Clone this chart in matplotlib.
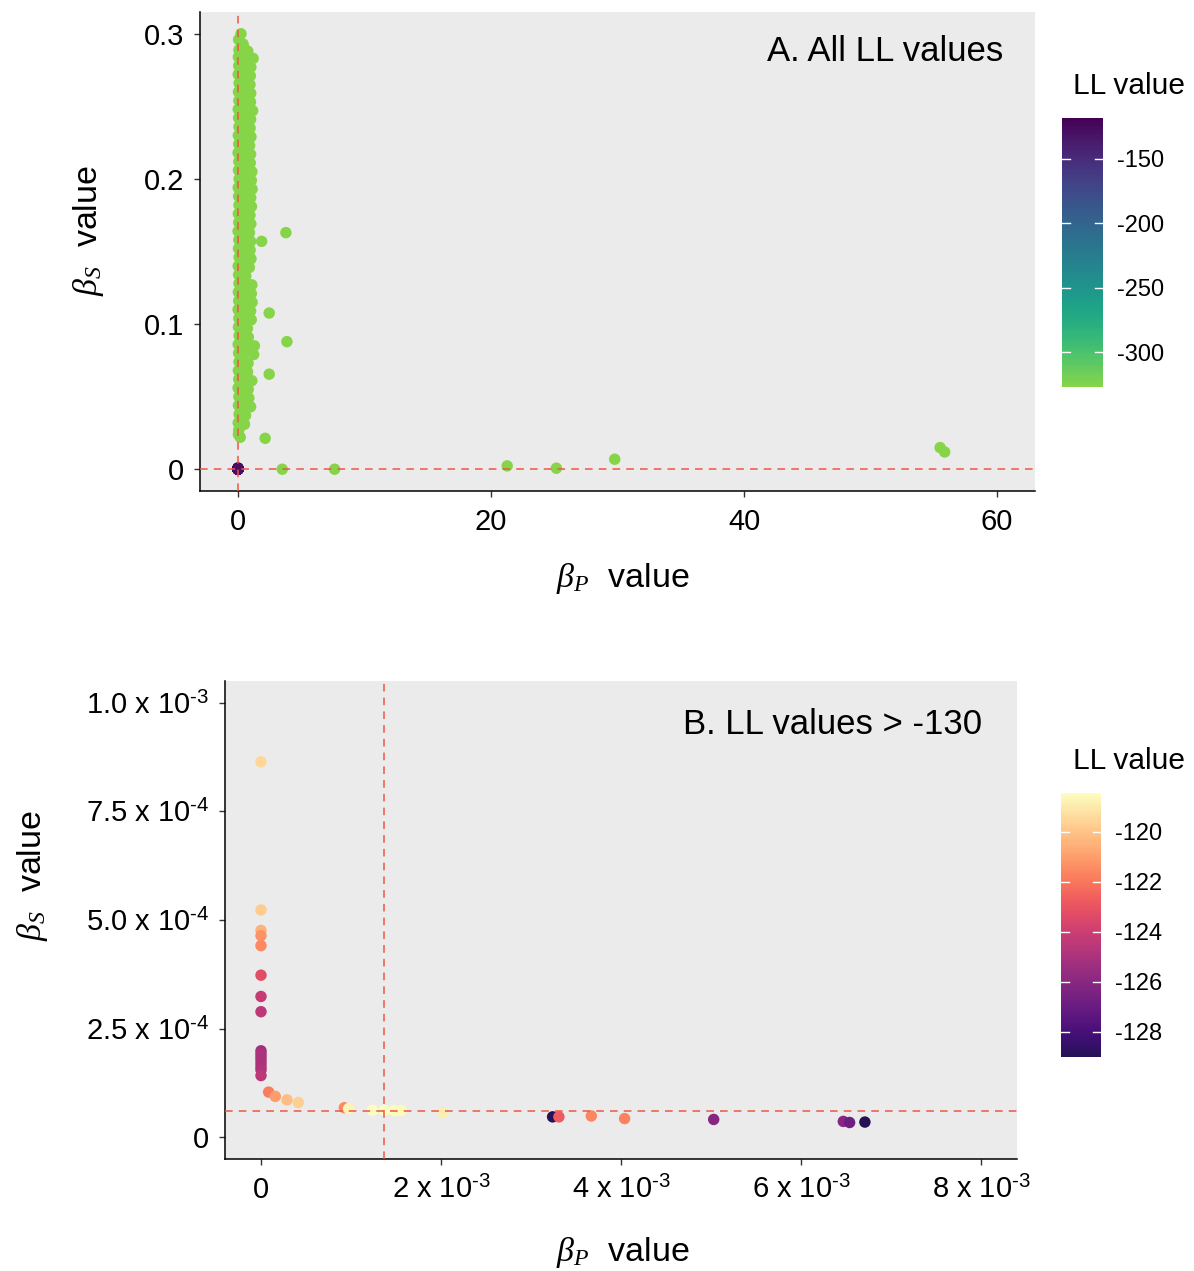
import numpy as np
import matplotlib
matplotlib.use("Agg")
import matplotlib.pyplot as plt
from matplotlib.colors import ListedColormap, Normalize

plt.rcParams['font.family'] = ['Liberation Sans', 'DejaVu Sans']
plt.rcParams['mathtext.fontset'] = 'custom'
plt.rcParams['mathtext.rm'] = 'Liberation Sans'
plt.rcParams['mathtext.it'] = 'Liberation Serif:italic'
plt.rcParams['axes.unicode_minus'] = False

# ---------------- data ----------------
# Panel B points (LL > -130): beta_P, beta_S, LL
b_x = [0, 0, 0, 0, 0, 0, 0, 0,
       0, 0, 0, 0, 0, 0, 0, 0,
       0.085e-3, 0.159e-3, 0.289e-3, 0.415e-3, 0.926e-3, 0.974e-3,
       1.24e-3, 1.37e-3, 1.48e-3, 1.56e-3, 2.02e-3,
       3.24e-3, 3.31e-3, 3.67e-3, 4.04e-3, 5.03e-3, 6.47e-3, 6.54e-3, 6.71e-3]
b_y = [8.64e-4, 5.23e-4, 4.76e-4, 4.64e-4, 4.41e-4, 3.73e-4, 3.24e-4, 2.89e-4,
       1.99e-4, 1.92e-4, 1.85e-4, 1.78e-4, 1.70e-4, 1.62e-4, 1.55e-4, 1.42e-4,
       1.04e-4, 0.94e-4, 0.86e-4, 0.80e-4, 0.68e-4, 0.66e-4,
       0.62e-4, 0.62e-4, 0.615e-4, 0.615e-4, 0.566e-4,
       0.47e-4, 0.47e-4, 0.49e-4, 0.43e-4, 0.41e-4, 0.365e-4, 0.34e-4, 0.35e-4]
b_ll = [-119.5, -119.8, -120.5, -121.3, -121.5, -123.3, -124.2, -124.5,
        -125.2, -125.0, -125.0, -125.0, -125.0, -125.0, -124.8, -124.5,
        -121.8, -121.0, -120.2, -119.7, -121.5, -118.7,
        -118.5, -118.45, -118.5, -118.6, -118.9,
        -128.9, -122.8, -121.6, -121.7, -126.0, -126.0, -126.8, -129.0]

# Panel A: remaining (low-LL) estimates
green_x = [
    0.24, 0.05, 0.40,
    0.08, 0.45, 0.78,
    0.03, 0.60, 1.20,
    0.06, 0.52, 1.02,
    0.02, 0.47, 0.98,
    0.09, 0.55, 0.95,
    0.04, 0.43, 1.01,
    0.07, 0.58, 0.99,
    0.02, 0.49, 1.16,
    0.05, 0.51, 1.00,
    0.08, 0.44, 0.96,
    0.03, 0.56, 1.03,
    0.06, 0.48, 0.92,
    0.01, 0.53, 1.00,
    0.07, 0.46, 0.97,
    0.04, 0.57, 1.10,
    0.09, 0.50, 1.06,
    0.02, 0.45, 1.12,
    0.05, 0.54, 1.01,
    0.08, 0.49, 1.07,
    0.03, 0.52, 0.95,
    0.06, 0.47, 1.02,
    0.01, 0.55, 0.91,
    0.07, 0.44, 1.00,
    0.04, 0.58, 0.96,
    0.09, 0.50, 1.03,
    0.02, 0.46, 0.90,
    0.05, 0.33, 0.62,
    0.08, 0.54, 1.10,
    0.03, 0.49, 1.06,
    0.06, 0.57, 1.12,
    0.01, 0.45, 1.00,
    0.07, 0.52, 1.05,
    0.04, 0.38, 0.75,
    0.09, 0.43, 0.82,
    0.02, 0.66, 1.30,
    0.05, 0.61, 1.24,
    0.08, 0.41, 0.80,
    0.03, 0.37, 0.76,
    0.06, 0.55, 1.10,
    0.01, 0.42, 0.81,
    0.07, 0.44, 0.86,
    0.04, 0.51, 1.00,
    0.09, 0.33, 0.60,
    0.02, 0.27, 0.52,
    0.06, 0.14,
    0.18, 0.04,
    1.87, 3.79, 2.47, 3.87, 2.47, 2.15, 3.50, 7.64,
    21.28, 25.17, 29.78, 55.50, 55.86,
]
green_y = [
    0.300, 0.296, 0.293,
    0.289, 0.291, 0.288,
    0.284, 0.286, 0.283,
    0.278, 0.280, 0.277,
    0.272, 0.274, 0.271,
    0.266, 0.268, 0.265,
    0.260, 0.262, 0.259,
    0.254, 0.256, 0.253,
    0.248, 0.250, 0.247,
    0.242, 0.244, 0.241,
    0.236, 0.238, 0.235,
    0.230, 0.232, 0.229,
    0.224, 0.226, 0.223,
    0.218, 0.220, 0.217,
    0.212, 0.214, 0.211,
    0.206, 0.208, 0.205,
    0.200, 0.202, 0.199,
    0.194, 0.196, 0.193,
    0.188, 0.190, 0.187,
    0.182, 0.184, 0.181,
    0.176, 0.178, 0.175,
    0.170, 0.172, 0.169,
    0.164, 0.166, 0.163,
    0.158, 0.160, 0.157,
    0.152, 0.154, 0.151,
    0.146, 0.148, 0.145,
    0.140, 0.142, 0.139,
    0.134, 0.136, 0.133,
    0.128, 0.130, 0.127,
    0.122, 0.124, 0.121,
    0.116, 0.118, 0.115,
    0.110, 0.112, 0.109,
    0.104, 0.106, 0.103,
    0.098, 0.100, 0.097,
    0.092, 0.094, 0.091,
    0.086, 0.088, 0.085,
    0.080, 0.082, 0.079,
    0.074, 0.076, 0.073,
    0.068, 0.070, 0.067,
    0.062, 0.064, 0.061,
    0.056, 0.058, 0.055,
    0.050, 0.052, 0.049,
    0.044, 0.046, 0.043,
    0.038, 0.040, 0.037,
    0.032, 0.034, 0.031,
    0.027, 0.029,
    0.022, 0.024,
    0.157, 0.163, 0.1076, 0.0879, 0.0655, 0.0213, 0.0, 0.0,
    0.0023, 0.0007, 0.0069, 0.0149, 0.0119,
]
green_ll = -327.0

# reference (best-fit) lines
ref_p = 1.37e-3
ref_s = 6.16e-5

a_xticks = [0, 20, 40, 60]
a_xlabels = ['0', '20', '40', '60']
a_yticks = [0, 0.1, 0.2, 0.3]
a_ylabels = ['0', '0.1', '0.2', '0.3']
a_cticks = [-300, -250, -200, -150]

SUP3 = '$^{\\text{-3}}$'
SUP4 = '$^{\\text{-4}}$'
b_xticks = [0, 2e-3, 4e-3, 6e-3, 8e-3]
b_xlabels = ['0', '2 x 10' + SUP3, '4 x 10' + SUP3, '6 x 10' + SUP3, '8 x 10' + SUP3]
b_yticks = [0, 2.5e-4, 5e-4, 7.5e-4, 1e-3]
b_ylabels = ['0', '2.5 x 10' + SUP4, '5.0 x 10' + SUP4, '7.5 x 10' + SUP4,
             '1.0 x 10' + SUP3]
b_cticks = [-128, -126, -124, -122, -120]

# ---------------- styling ----------------
PANEL = '#EBEBEB'
REDLINE = '#EE5546'
TICK_FS = 21
CBTICK_FS = 17
TITLE_FS = 24.5
LAB_FS = 25
CB_FS = 21.5
MS = 68

cmap_a = ListedColormap(plt.get_cmap('viridis')(np.linspace(0.82, 0.0, 256)))
cmap_b = ListedColormap(plt.get_cmap('magma')(np.linspace(0.15, 1.0, 256)))

fig = plt.figure(figsize=(11.94, 12.71), dpi=100)
W, H = 1194.0, 1271.0


def px_axes(l, t, r, b):
    return fig.add_axes([l / W, 1 - b / H, (r - l) / W, (b - t) / H])


def style(ax):
    ax.set_facecolor(PANEL)
    for s in ['top', 'right']:
        ax.spines[s].set_visible(False)
    for s in ['left', 'bottom']:
        ax.spines[s].set_linewidth(1.1)
        ax.spines[s].set_color('black')
    ax.tick_params(length=4.5, width=1.0, color='#333333', labelsize=TICK_FS,
                   labelcolor='black')
    ax.tick_params(axis='x', pad=8)
    ax.tick_params(axis='y', pad=7)


def colorbar(sc, l, t, r, b, ticks):
    cax = px_axes(l, t, r, b)
    cb = fig.colorbar(sc, cax=cax)
    cb.outline.set_visible(False)
    cb.set_ticks(ticks)
    cb.set_ticklabels([str(t) for t in ticks])
    cax.tick_params(length=0, labelsize=CBTICK_FS, pad=10)
    tr = cax.get_yaxis_transform()
    for t in ticks:
        cax.plot([0, 0.2], [t, t], color='white', lw=1.0, transform=tr)
        cax.plot([0.8, 1.0], [t, t], color='white', lw=1.0, transform=tr)
    return cb


XT = r'$\beta_P$  value'
YT = r'$\beta_S$  value'

# ---------------- Panel A ----------------
axA = px_axes(200, 12, 1035, 491)
style(axA)
all_x = list(green_x) + list(b_x)
all_y = list(green_y) + list(b_y)
all_ll = [green_ll] * len(green_x) + list(b_ll)
normA = Normalize(vmin=min(all_ll), vmax=max(all_ll))
scA = axA.scatter(all_x, all_y, c=all_ll, cmap=cmap_a, norm=normA, s=MS,
                  linewidths=0, zorder=3)
axA.axvline(ref_p, color=REDLINE, lw=1.1, ls=(0, (5, 4)), zorder=4)
axA.axhline(ref_s, color=REDLINE, lw=1.1, ls=(0, (5, 4)), zorder=4)
axA.set_xlim(-3, 63)
axA.set_ylim(-0.015, 0.315)
axA.set_xticks(a_xticks, a_xlabels)
axA.set_yticks(a_yticks, a_ylabels)
axA.text(0.9616, 0.9165, 'A. All LL values', transform=axA.transAxes,
         ha='right', va='center', fontsize=LAB_FS)
colorbar(scA, 1062, 118, 1103, 387, a_cticks)
fig.text(1073 / W, 1 - 86 / H, 'LL value', ha='left', va='center', fontsize=CB_FS)
fig.text(623 / W, 1 - 579 / H, XT, ha='center', va='center', fontsize=TITLE_FS)
fig.text(88 / W, 1 - 231 / H, YT, ha='center', va='center',
         rotation=90, fontsize=TITLE_FS)

# ---------------- Panel B ----------------
axB = px_axes(225, 681, 1017, 1159)
style(axB)
normB = Normalize(vmin=min(b_ll), vmax=max(b_ll))
scB = axB.scatter(b_x, b_y, c=b_ll, cmap=cmap_b, norm=normB, s=MS,
                  linewidths=0, zorder=3)
axB.axvline(ref_p, color=REDLINE, lw=1.1, ls=(0, (5, 4)), zorder=4)
axB.axhline(ref_s, color=REDLINE, lw=1.1, ls=(0, (5, 4)), zorder=4)
axB.set_xlim(-0.4e-3, 8.4e-3)
axB.set_ylim(-0.05e-3, 1.05e-3)
axB.set_xticks(b_xticks, b_xlabels)
axB.set_yticks(b_yticks, b_ylabels)
axB.text(0.9558, 0.908, 'B. LL values > -130', transform=axB.transAxes,
         ha='right', va='center', fontsize=LAB_FS)
colorbar(scB, 1061, 793, 1101, 1057, b_cticks)
fig.text(1073 / W, 1 - 761 / H, 'LL value', ha='left', va='center', fontsize=CB_FS)
fig.text(623 / W, 1 - 1252 / H, XT, ha='center', va='center', fontsize=TITLE_FS)
fig.text(32 / W, 1 - 876 / H, YT, ha='center', va='center',
         rotation=90, fontsize=TITLE_FS)

fig.savefig('out.png', dpi=100, facecolor='white')
